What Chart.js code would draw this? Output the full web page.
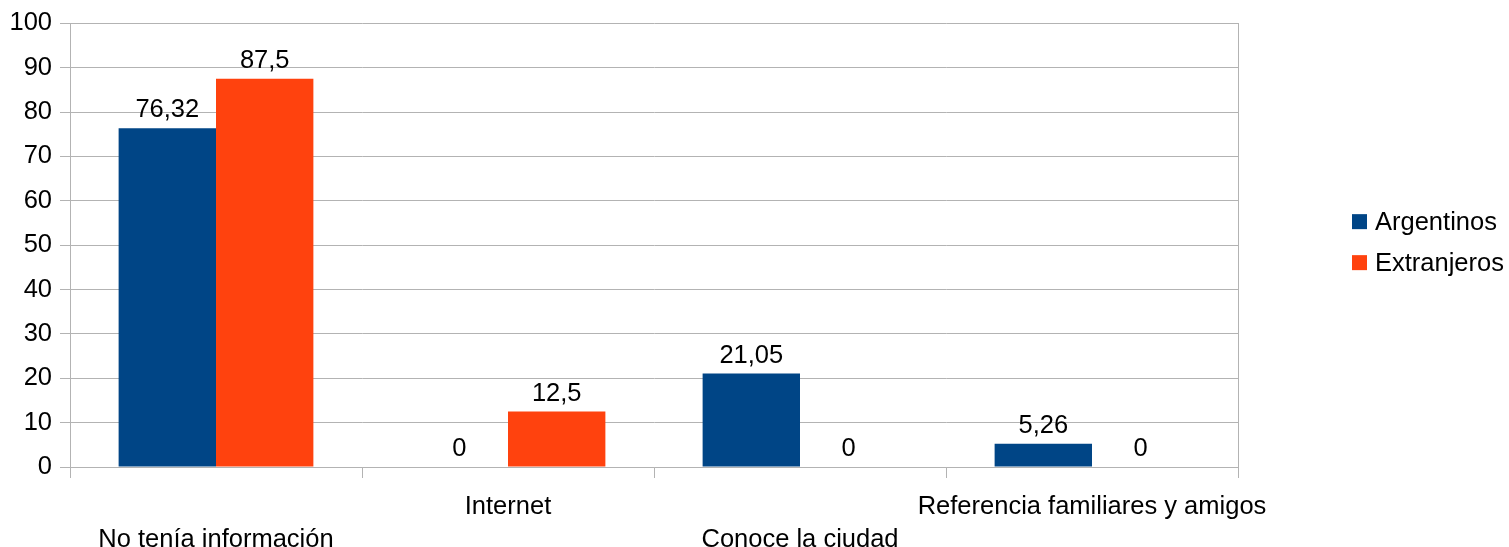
<!DOCTYPE html>
<html>
<head>
<meta charset="utf-8">
<script src="https://cdn.jsdelivr.net/npm/chart.js@4/dist/chart.umd.min.js"></script>
<style>
html,body{margin:0;padding:0;background:#fff;}
#wrap{width:1509px;height:547px;position:relative;}
</style>
</head>
<body>
<div id="wrap"><canvas id="c" width="1509" height="547"></canvas></div>
<script>
const categories = ["No tenía información", "Internet", "Conoce la ciudad", "Referencia familiares y amigos"];
const argentinos = [76.32, 0, 21.05, 5.26];
const extranjeros = [87.5, 12.5, 0, 0];
const seriesNames = ["Argentinos", "Extranjeros"];
const seriesColors = ["#004586", "#ff420e"];
const yTicks = [0, 10, 20, 30, 40, 50, 60, 70, 80, 90, 100];

const FONT = "'Liberation Sans', Arial, sans-serif";
const FS = 25.5;
const GRID = "#b3b3b3";

const valueLabels = {
  id: 'valueLabels',
  afterDatasetsDraw(chart) {
    const ctx = chart.ctx;
    ctx.save();
    ctx.font = FS + "px " + FONT;
    ctx.fillStyle = "#000";
    ctx.textAlign = "center";
    ctx.textBaseline = "middle";
    chart.data.datasets.forEach((ds, di) => {
      const meta = chart.getDatasetMeta(di);
      meta.data.forEach((bar, i) => {
        const v = ds.data[i];
        ctx.fillText(String(v).replace('.', ','), bar.x, bar.y - 18);
      });
    });
    ctx.restore();
  }
};

const customLegend = {
  id: 'customLegend',
  afterDraw(chart) {
    const ctx = chart.ctx;
    ctx.save();
    ctx.font = FS + "px " + FONT;
    ctx.textBaseline = "middle";
    ctx.textAlign = "left";
    const x0 = chart.chartArea.right + 114;
    const yc = (chart.chartArea.top + chart.chartArea.bottom) / 2;
    const rowH = 41;
    chart.data.datasets.forEach((ds, i) => {
      const y = yc - rowH / 2 + i * rowH - 3;
      ctx.fillStyle = ds.backgroundColor;
      ctx.fillRect(x0, y - 7.5, 15, 15);
      ctx.fillStyle = "#000";
      ctx.fillText(ds.label, x0 + 23, y + 1);
    });
    ctx.restore();
  }
};

new Chart(document.getElementById('c'), {
  type: 'bar',
  data: {
    labels: categories,
    datasets: [
      { label: seriesNames[0], data: argentinos, backgroundColor: seriesColors[0] },
      { label: seriesNames[1], data: extranjeros, backgroundColor: seriesColors[1] }
    ]
  },
  options: {
    responsive: false,
    animation: false,
    devicePixelRatio: 1,
    layout: { padding: { top: 23, right: 271, bottom: 0, left: 0 } },
    datasets: { bar: { categoryPercentage: 0.667, barPercentage: 1.0, borderWidth: 0 } },
    plugins: { legend: { display: false }, tooltip: { enabled: false } },
    scales: {
      x: {
        grid: { display: true, offset: true, drawOnChartArea: false, drawTicks: true, tickLength: 11, color: GRID, lineWidth: 1 },
        border: { display: true, color: GRID },
        ticks: {
          font: { family: FONT, size: FS, lineHeight: 33 / FS },
          color: "#000",
          padding: 12,
          maxRotation: 0,
          autoSkip: false,
          callback: function(value, index) {
            const l = categories[index];
            return index % 2 === 0 ? ['', l] : [l];
          }
        },
        afterFit(scale) { scale.height = 80; }
      },
      y: {
        min: 0, max: 100,
        afterBuildTicks(scale) { scale.ticks = yTicks.map(v => ({ value: v })); },
        grid: { color: GRID, lineWidth: 1, drawTicks: true, tickLength: 10 },
        border: { display: true, color: GRID },
        ticks: { font: { family: FONT, size: FS }, color: "#000", padding: 8 },
        afterFit(scale) { scale.width = 70; }
      },
      y2: {
        position: 'right',
        min: 0, max: 100,
        grid: { drawOnChartArea: false, drawTicks: false },
        border: { display: true, color: GRID },
        ticks: { display: false },
        afterFit(scale) { scale.width = 0; }
      }
    }
  },
  plugins: [valueLabels, customLegend]
});
</script>
</body>
</html>
